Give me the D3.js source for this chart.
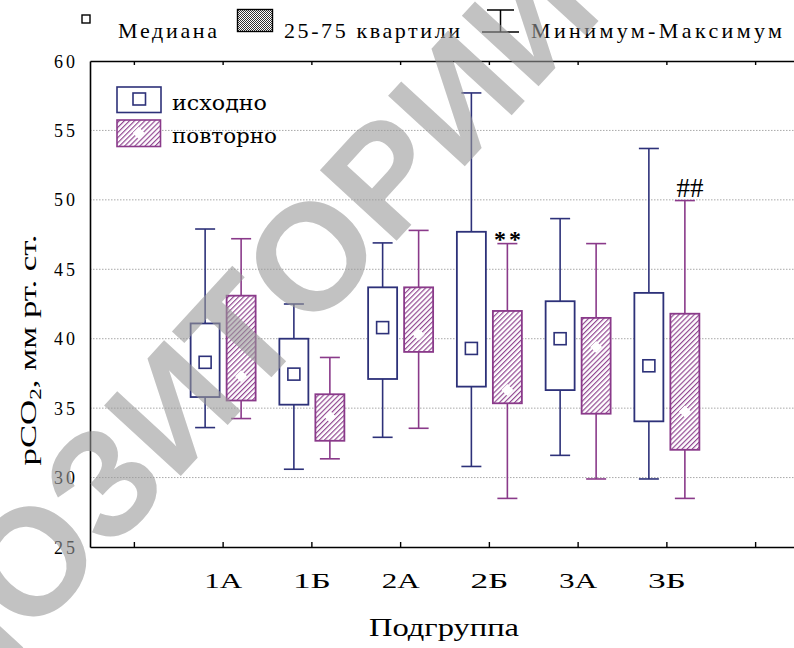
<!DOCTYPE html>
<html>
<head>
<meta charset="utf-8">
<script src="https://cdn.jsdelivr.net/npm/d3@7"></script>
<style>
  body { margin: 0; background: #fff; }
  svg { display: block; }
  .serif { font-family: "Liberation Serif", "DejaVu Serif", "Noto Serif", serif; }
  .slab { font-family: "DejaVu Serif", "Liberation Serif", serif; }
  .mark { font-family: "Liberation Sans", "DejaVu Sans", sans-serif; }
</style>
</head>
<body>
<svg id="chart" width="794" height="648"></svg>
<script>
// Subgroups on the category axis (empty slots pad both ends)
const groups = ["1А", "1Б", "2А", "2Б", "3А", "3Б"];
const slots = ["pad0", ...groups, "pad7"];
const yTicks = [25, 30, 35, 40, 45, 50, 55, 60];
const gridValues = [30, 35, 40, 45, 50, 55];

// pCO2 (mm Hg), baseline measurement
const initMin    = [33.6, 30.6, 32.9, 30.8, 31.6, 29.9];
const initQ1     = [35.8, 35.25, 37.1, 36.55, 36.3, 34.05];
const initMedian = [38.3, 37.45, 40.8, 39.3, 40.0, 38.05];
const initQ3     = [41.1, 40.0, 43.7, 47.7, 42.7, 43.3];
const initMax    = [47.9, 42.5, 46.9, 57.7, 48.65, 53.7];

// pCO2 (mm Hg), repeat measurement
const repMin    = [34.25, 31.35, 33.55, 28.5, 29.9, 28.5];
const repQ1     = [35.55, 32.65, 39.05, 35.35, 34.6, 32.0];
const repMedian = [37.3, 34.4, 40.3, 36.3, 39.4, 34.75];
const repQ3     = [43.1, 36.0, 43.7, 42.0, 41.5, 41.8];
const repMax    = [47.2, 38.65, 47.8, 46.85, 46.85, 49.95];

// Significance marks placed over the repeat whisker
const marks = [
  { group: "2Б", text: "**" },
  { group: "3Б", text: "##" }
];

const seriesNames = ["исходно", "повторно"];
const legendItems = ["Медиана", "25-75 квартили", "Минимум-Максимум"];
const watermark = "РЕПОЗИТОРИЙ";

const NAVY = "#2d3179";
const PURPLE = "#8a3a8a";

const svg = d3.select("#chart");
const defs = svg.append("defs");

// diagonal hatch for the repeat boxes
const hatch = defs.append("pattern")
  .attr("id", "hatch").attr("patternUnits", "userSpaceOnUse")
  .attr("width", 3.6).attr("height", 3.6)
  .attr("patternTransform", "rotate(45)");
hatch.append("rect").attr("width", 3.6).attr("height", 3.6).attr("fill", "#fff");
hatch.append("line").attr("x1", 0.6).attr("y1", 0).attr("x2", 0.6).attr("y2", 3.6)
  .attr("stroke", PURPLE).attr("stroke-width", 1.1);

// fine checker for the quartile legend swatch
const checker = defs.append("pattern")
  .attr("id", "checker").attr("patternUnits", "userSpaceOnUse")
  .attr("width", 2).attr("height", 2);
checker.append("rect").attr("width", 2).attr("height", 2).attr("fill", "#fff");
checker.append("rect").attr("width", 1).attr("height", 1).attr("fill", "#333");
checker.append("rect").attr("x", 1).attr("y", 1).attr("width", 1).attr("height", 1).attr("fill", "#333");

const x = d3.scaleBand().domain(slots).range([90, 800]).paddingInner(0).paddingOuter(0);
const y = d3.scaleLinear().domain([25, 60]).range([547, 61]);
const cx = g => x(g) + x.bandwidth() / 2;

const offset = 18, boxW = 29, capW = 20;

// grid
svg.append("g").selectAll("line").data(gridValues).join("line")
  .attr("x1", 90).attr("x2", 794)
  .attr("y1", d => y(d)).attr("y2", d => y(d))
  .attr("stroke", "#a9a9a9").attr("stroke-width", 1)
  .attr("stroke-dasharray", "1.5,1.5");

// axes
const axisB = svg.append("g").attr("transform", `translate(0,${y(25)})`)
  .call(d3.axisBottom(x).tickSizeInner(-5).tickSizeOuter(0).tickFormat(d => groups.includes(d) ? d : ""));
const axisT = svg.append("g").attr("transform", `translate(0,${y(60)})`)
  .call(d3.axisTop(x).tickSizeInner(-4).tickSizeOuter(0).tickFormat(""));
const axisL = svg.append("g").attr("transform", "translate(90,0)")
  .call(d3.axisLeft(y).tickValues(yTicks).tickSize(0).tickPadding(15).tickFormat(d3.format("d")));

[axisB, axisT, axisL].forEach(a => {
  a.attr("font-family", null);
  a.select(".domain").attr("stroke", "#000").attr("stroke-width", 1.6);
  a.selectAll(".tick line").attr("stroke", "#000").attr("stroke-width", 1.4);
});
axisB.selectAll(".tick text")
  .attr("class", "serif")
  .attr("y", 41).attr("dy", 0)
  .attr("font-size", 22).attr("fill", "#000")
  .each(function (d) { if (groups.includes(d)) d3.select(this).attr("textLength", 38).attr("lengthAdjust", "spacingAndGlyphs"); });
axisL.selectAll(".tick text")
  .attr("class", "serif")
  .attr("font-size", 18).attr("fill", "#000")
  .attr("dy", "0.34em")
  .attr("textLength", 21).attr("lengthAdjust", "spacing");

// axis titles
svg.append("text").attr("class", "serif").attr("x", 444).attr("y", 636).attr("text-anchor", "middle")
  .attr("font-size", 26)
  .attr("textLength", 150).attr("lengthAdjust", "spacingAndGlyphs")
  .text("Подгруппа");

const yt = svg.append("text").attr("class", "serif").attr("transform", "translate(36,350) rotate(-90)")
  .attr("text-anchor", "middle").attr("font-size", 24)
  .attr("textLength", 231).attr("lengthAdjust", "spacingAndGlyphs");
yt.append("tspan").text("pCO");
yt.append("tspan").attr("font-size", 16).attr("dy", 5).text("2");
yt.append("tspan").attr("dy", -5).text(", мм рт. ст.");

// box plots
function drawSeries(idx, mins, q1s, meds, q3s, maxs) {
  const dx = idx === 0 ? -offset : offset;
  const color = idx === 0 ? NAVY : PURPLE;
  const g = svg.append("g");
  groups.forEach((grp, i) => {
    const c = cx(grp) + dx;
    g.append("line").attr("x1", c).attr("x2", c).attr("y1", y(maxs[i])).attr("y2", y(q3s[i]))
      .attr("stroke", color).attr("stroke-width", 1.6);
    g.append("line").attr("x1", c).attr("x2", c).attr("y1", y(q1s[i])).attr("y2", y(mins[i]))
      .attr("stroke", color).attr("stroke-width", 1.6);
    [maxs[i], mins[i]].forEach(v => {
      g.append("line").attr("x1", c - capW / 2).attr("x2", c + capW / 2)
        .attr("y1", y(v)).attr("y2", y(v)).attr("stroke", color).attr("stroke-width", 1.6);
    });
    g.append("rect").attr("x", c - boxW / 2).attr("y", y(q3s[i]))
      .attr("width", boxW).attr("height", y(q1s[i]) - y(q3s[i]))
      .attr("fill", idx === 0 ? "#fff" : "url(#hatch)")
      .attr("stroke", color).attr("stroke-width", 1.8);
    if (idx === 0) {
      g.append("rect").attr("x", c - 6).attr("y", y(meds[i]) - 6)
        .attr("width", 12).attr("height", 12)
        .attr("fill", "#fff").attr("stroke", color).attr("stroke-width", 1.6);
    } else {
      const m = y(meds[i]);
      g.append("path").attr("d", `M${c},${m - 6}L${c + 6},${m}L${c},${m + 6}L${c - 6},${m}Z`)
        .attr("fill", "#fff");
    }
  });
}
drawSeries(0, initMin, initQ1, initMedian, initQ3, initMax);
drawSeries(1, repMin, repQ1, repMedian, repQ3, repMax);

// significance marks
marks.forEach(mk => {
  const i = groups.indexOf(mk.group);
  const isStar = mk.text === "**";
  svg.append("text").attr("class", "serif")
    .attr("x", cx(mk.group) + offset + (isStar ? 1.5 : 5))
    .attr("y", y(repMax[i]) + (isStar ? 3 : -4))
    .attr("text-anchor", "middle")
    .attr("font-size", isStar ? 24 : 27)
    .attr("font-weight", isStar ? "bold" : "normal")
    .attr("letter-spacing", isStar ? 3 : 0)
    .text(mk.text);
});

// inner series legend
const lg = svg.append("g");
lg.append("rect").attr("x", 117).attr("y", 87).attr("width", 44).attr("height", 25.5)
  .attr("fill", "#fff").attr("stroke", NAVY).attr("stroke-width", 1.6);
lg.append("rect").attr("x", 133).attr("y", 93).attr("width", 12.5).attr("height", 12)
  .attr("fill", "#fff").attr("stroke", NAVY).attr("stroke-width", 1.6);
lg.append("rect").attr("x", 117).attr("y", 120).attr("width", 43.5).attr("height", 26.5)
  .attr("fill", "url(#hatch)").attr("stroke", PURPLE).attr("stroke-width", 1.6);
lg.append("path").attr("d", "M138.7,127L144.7,133L138.7,139L132.7,133Z").attr("fill", "#fff");
lg.append("text").attr("class", "slab").attr("x", 172).attr("y", 109.5).attr("font-size", 21)
  .attr("textLength", 95).attr("lengthAdjust", "spacingAndGlyphs").text(seriesNames[0]);
lg.append("text").attr("class", "slab").attr("x", 172).attr("y", 142.5).attr("font-size", 21)
  .attr("textLength", 105).attr("lengthAdjust", "spacingAndGlyphs").text(seriesNames[1]);

// top legend
const tl = svg.append("g");
tl.append("rect").attr("x", 82).attr("y", 15).attr("width", 8).attr("height", 8)
  .attr("fill", "#fff").attr("stroke", "#000").attr("stroke-width", 1.4);
tl.append("text").attr("class", "serif").attr("x", 118).attr("y", 38).attr("font-size", 22)
  .attr("textLength", 99).attr("lengthAdjust", "spacing").text(legendItems[0]);
tl.append("rect").attr("x", 237.5).attr("y", 9.5).attr("width", 35).attr("height", 22)
  .attr("fill", "url(#checker)").attr("stroke", "#000").attr("stroke-width", 1.4);
tl.append("text").attr("class", "serif").attr("x", 284).attr("y", 38).attr("font-size", 22)
  .attr("textLength", 176).attr("lengthAdjust", "spacing").text(legendItems[1]);
tl.append("path").attr("d", "M487,10H514M500.5,10V32M482,32H519")
  .attr("fill", "none").attr("stroke", "#000").attr("stroke-width", 1.5);
tl.append("text").attr("class", "serif").attr("x", 531).attr("y", 38).attr("font-size", 22)
  .attr("textLength", 251).attr("lengthAdjust", "spacing").text(legendItems[2]);

// repository watermark: each letter centred on a diagonal running through two anchor points
const wmSize = 150;
const wmG = svg.append("g").attr("opacity", 0.6);
const wmLetters = wmG.selectAll("text").data(watermark.split("")).join("text")
  .attr("class", "mark").attr("font-weight", "bold").attr("font-size", wmSize)
  .attr("text-anchor", "middle").attr("dy", "0.358em")
  .attr("fill", "#9a9a9a").text(d => d);
const widths = wmLetters.nodes().map(n => n.getComputedTextLength());
let run = 0;
const centers = widths.map(w => { const c = run + w / 2; run += w; return c; });
const anchorA = [30, 560], anchorB = [310, 255];   // centres of the two «О»
const vx = anchorB[0] - anchorA[0], vy = anchorB[1] - anchorA[1];
const wmScale = Math.hypot(vx, vy) / (centers[7] - centers[3]);
const rad = Math.atan2(vy, vx);
wmLetters.attr("transform", (d, i) => {
  const t = (centers[i] - centers[3]) * wmScale;
  const px = anchorA[0] + t * Math.cos(rad), py = anchorA[1] + t * Math.sin(rad);
  return `translate(${px},${py}) rotate(${rad * 180 / Math.PI}) scale(${wmScale})`;
});
</script>
</body>
</html>
